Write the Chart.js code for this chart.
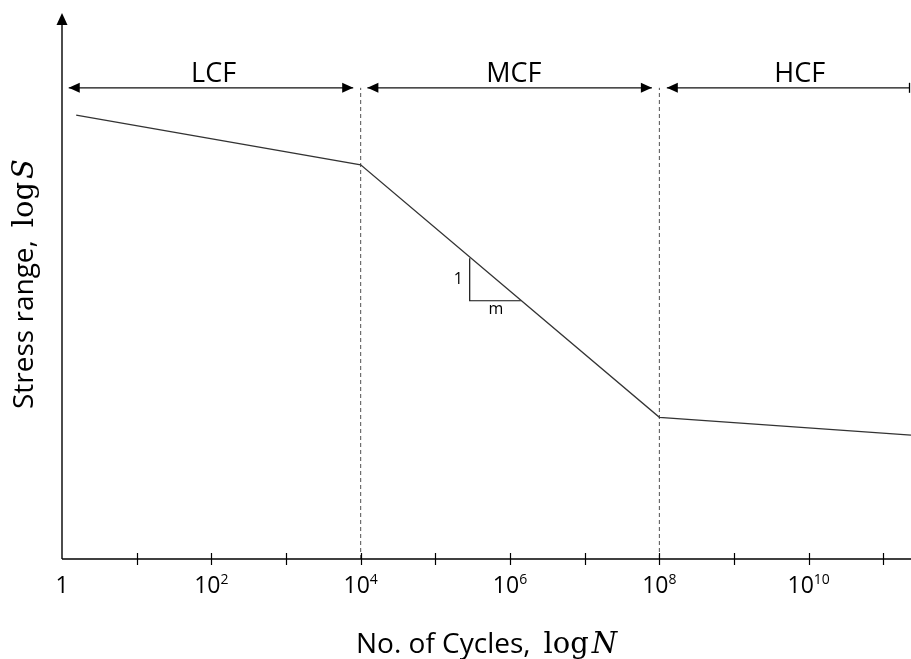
<!DOCTYPE html>
<html>
<head>
<meta charset="utf-8">
<script src="https://cdn.jsdelivr.net/npm/chart.js@4/dist/chart.umd.min.js"></script>
<style>
html,body{margin:0;padding:0;background:#fff;}
#wrap{width:911px;height:659px;position:relative;}
canvas{display:block;}
</style>
</head>
<body>
<div id="wrap"><canvas id="c" width="911" height="659"></canvas></div>
<script>
// ---- data (x = log10 N, y = log S in arbitrary units) ----
const curveLogN = [0.19, 4, 8, 11.37];
const curveLogS = [81.3, 72.2, 25.95, 22.7];
const boundaryLogN = [4, 8];
const regionLabels = ['LCF', 'MCF', 'HCF'];
const regionStart = [0.09, 4.09, 8.10];
const regionEnd = [3.90, 7.90, 11.35];
const regionEndCap = ['arrow', 'arrow', 'bar'];
const regionLabelLogN = [2.03, 6.05, 9.88];
const regionLevel = 86.3;
const slopeTriLogN = [5.46, 5.46, 6.145];
const slopeTriLogS = [55.1, 47.3, 47.3];
const slopeLabels = ['1', 'm'];
const slopeLabelLogN = [5.306, 5.81];
const slopeLabelLogS = [50.3, 44.9];
const minorTickLogN = [1, 2, 3, 4, 5, 6, 7, 8, 9, 10, 11];
const tickLabelLogN = [0, 2, 4, 6, 8, 10];
const tickLabelBase = ['1', '10', '10', '10', '10', '10'];
const tickLabelExp = ['', '2', '4', '6', '8', '10'];
const xTitleText = 'No. of Cycles,';
const xTitleVar = 'N';
const yTitleText = 'Stress range,';
const yTitleVar = 'S';
const logWord = 'log';
const X_MIN = 0, X_MAX = 11.37, Y_MIN = 0, Y_MAX = 100;

const SANS = '"Open Sans", "Noto Sans", sans-serif';
const SERIF = '"DejaVu Serif", "Liberation Serif", serif';

function pts(xs, ys) { return xs.map((x, i) => ({x: x, y: ys[i]})); }

const datasets = [];
datasets.push({
  data: pts(curveLogN, curveLogS),
  borderColor: '#333', borderWidth: 1.3, pointRadius: 0, showLine: true, tension: 0
});
boundaryLogN.forEach(b => {
  datasets.push({
    data: [{x: b, y: Y_MIN}, {x: b, y: regionLevel}],
    borderColor: '#505050', borderWidth: 1, borderDash: [4, 3],
    pointRadius: 0, showLine: true
  });
});
datasets.push({
  data: pts(slopeTriLogN, slopeTriLogS),
  borderColor: '#111', borderWidth: 1.2, pointRadius: 0, showLine: true
});
regionLabels.forEach((lab, i) => {
  datasets.push({
    data: [{x: regionStart[i], y: regionLevel}, {x: regionEnd[i], y: regionLevel}],
    borderColor: '#111', borderWidth: 1.3, pointRadius: 0, showLine: true
  });
});

function arrowHead(ctx, tx, ty, dx, dy, len, hw) {
  const bx = tx - dx * len, by = ty - dy * len;
  const px = -dy, py = dx;
  ctx.beginPath();
  ctx.moveTo(tx, ty);
  ctx.lineTo(bx + px * hw, by + py * hw);
  ctx.lineTo(bx - px * hw, by - py * hw);
  ctx.closePath();
  ctx.fill();
}

function drawParts(ctx, parts) {
  let cx = 0;
  parts.forEach(p => {
    ctx.font = p.font;
    ctx.fillText(p.text, cx, 0);
    cx += ctx.measureText(p.text).width + p.gap;
  });
}

const overlay = {
  id: 'overlay',
  afterDatasetsDraw(chart) {
    const ctx = chart.ctx;
    const xs = chart.scales.x, ys = chart.scales.y;
    const a = chart.chartArea;
    ctx.save();
    ctx.strokeStyle = '#000';
    ctx.fillStyle = '#000';
    ctx.lineWidth = 1.4;
    const y0 = ys.getPixelForValue(Y_MIN);
    const x0 = xs.getPixelForValue(X_MIN);
    ctx.beginPath();
    ctx.moveTo(x0, y0);
    ctx.lineTo(a.right, y0);
    ctx.stroke();
    const yTop = ys.getPixelForValue(Y_MAX);
    ctx.beginPath();
    ctx.moveTo(x0, y0);
    ctx.lineTo(x0, yTop + 10);
    ctx.stroke();
    arrowHead(ctx, x0, yTop, 0, -1, 12, 5.5);
    ctx.lineWidth = 1.2;
    minorTickLogN.forEach(v => {
      const px = Math.round(xs.getPixelForValue(v)) + 0.5;
      ctx.beginPath();
      ctx.moveTo(px, y0 - 6);
      ctx.lineTo(px, y0 + 6);
      ctx.stroke();
    });
    ctx.fillStyle = '#000';
    ctx.textBaseline = 'alphabetic';
    tickLabelLogN.forEach((v, i) => {
      const px = xs.getPixelForValue(v);
      ctx.font = '23px ' + SANS;
      const wb = ctx.measureText(tickLabelBase[i]).width;
      ctx.font = '14px ' + SANS;
      const we = tickLabelExp[i] ? ctx.measureText(tickLabelExp[i]).width : 0;
      const left = px - (wb + we) / 2;
      ctx.textAlign = 'left';
      ctx.font = '23px ' + SANS;
      ctx.fillText(tickLabelBase[i], left, y0 + 34);
      if (tickLabelExp[i]) {
        ctx.font = '14px ' + SANS;
        ctx.fillText(tickLabelExp[i], left + wb, y0 + 25);
      }
    });
    regionLabels.forEach((lab, i) => {
      const ly = ys.getPixelForValue(regionLevel);
      const sx = xs.getPixelForValue(regionStart[i]);
      const ex = xs.getPixelForValue(regionEnd[i]);
      ctx.fillStyle = '#000';
      arrowHead(ctx, sx, ly, -1, 0, 11, 5);
      if (regionEndCap[i] === 'arrow') {
        arrowHead(ctx, ex, ly, 1, 0, 11, 5);
      } else {
        ctx.lineWidth = 1.3;
        ctx.beginPath();
        ctx.moveTo(ex, ly - 5);
        ctx.lineTo(ex, ly + 5);
        ctx.stroke();
      }
      ctx.font = '27px ' + SANS;
      ctx.textAlign = 'center';
      ctx.fillText(lab, xs.getPixelForValue(regionLabelLogN[i]), ly - 6);
    });
    ctx.font = '16px ' + SANS;
    ctx.textAlign = 'center';
    slopeLabels.forEach((t, i) => {
      ctx.fillText(t, xs.getPixelForValue(slopeLabelLogN[i]), ys.getPixelForValue(slopeLabelLogS[i]));
    });
    ctx.textAlign = 'left';
    ctx.save();
    ctx.translate(356, 653);
    drawParts(ctx, [
      {text: xTitleText, font: '28px ' + SANS, gap: 13},
      {text: logWord, font: '29px ' + SERIF, gap: 3},
      {text: xTitleVar, font: 'italic 29px ' + SERIF, gap: 0}
    ]);
    ctx.restore();
    ctx.save();
    ctx.translate(33, 409);
    ctx.rotate(-Math.PI / 2);
    drawParts(ctx, [
      {text: yTitleText, font: '28px ' + SANS, gap: 13},
      {text: logWord, font: '29px ' + SERIF, gap: 3},
      {text: yTitleVar, font: 'italic 29px ' + SERIF, gap: 0}
    ]);
    ctx.restore();
    ctx.restore();
  }
};

new Chart(document.getElementById('c'), {
  type: 'scatter',
  data: {datasets: datasets},
  options: {
    responsive: false,
    animation: false,
    devicePixelRatio: 1,
    layout: {padding: {left: 62, right: 0, top: 13, bottom: 100}},
    plugins: {legend: {display: false}, tooltip: {enabled: false}},
    scales: {
      x: {type: 'linear', min: X_MIN, max: X_MAX, display: false},
      y: {type: 'linear', min: Y_MIN, max: Y_MAX, display: false}
    }
  },
  plugins: [overlay]
});
</script>
</body>
</html>
